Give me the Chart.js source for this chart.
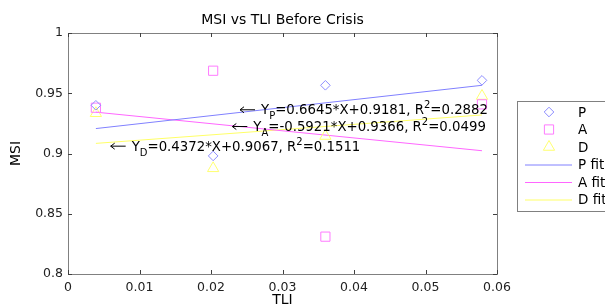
<!DOCTYPE html>
<html>
<head>
<meta charset="utf-8">
<script src="https://cdn.jsdelivr.net/npm/chart.js@4.4.1/dist/chart.umd.min.js"></script>
<style>
  html, body { margin: 0; padding: 0; background: #fff; }
  #wrap { width: 605px; height: 307px; position: relative; }
</style>
</head>
<body>
<div id="wrap"><canvas id="msiChart"></canvas></div>
<script>
// --- Data ---
const tli = [0.0039, 0.0203, 0.0360, 0.0579];
const msiP = [0.940, 0.898, 0.9566, 0.9607];
const msiA = [0.938, 0.9687, 0.831, 0.9408];
const msiD = [0.9334, 0.8877, 0.9145, 0.9477];

// fitted line end points (x = first and last TLI)
const fitX = [0.0039, 0.0579];
const fitP = [0.9207, 0.9566];
const fitA = [0.9343, 0.9023];
const fitD = [0.9084, 0.9320];

const xTicks = [0, 0.01, 0.02, 0.03, 0.04, 0.05, 0.06];
const yTicks = [0.8, 0.85, 0.9, 0.95, 1];

// equation labels: arrow tip in data coords
const eqLabels = [
    { x: 0.02406, y: 0.9367, sub: 'P', body: '=0.6645*X+0.9181, R', r2: '=0.2882' },
    { x: 0.02298, y: 0.9228, sub: 'A', body: '=-0.5921*X+0.9366, R', r2: '=0.0499' },
    { x: 0.00597, y: 0.9065, sub: 'D', body: '=0.4372*X+0.9067, R', r2: '=0.1511' }
];

const FONT = '"DejaVu Sans", Verdana, sans-serif';
const pts = (ys) => tli.map((x, i) => ({ x: x, y: ys[i] }));
const fit = (ys) => fitX.map((x, i) => ({ x: x, y: ys[i] }));

// --- Frame, ticks, titles, legend, equations ---
const matlabLook = {
    id: 'matlabLook',
    afterDatasetsDraw(chart) {
        const { ctx, chartArea: a, scales } = chart;
        const xs = scales.x, ys = scales.y;
        ctx.save();
        // box
        ctx.strokeStyle = '#808080';
        ctx.lineWidth = 1;
        ctx.strokeRect(a.left + 0.5, a.top + 0.5, a.right - a.left, a.bottom - a.top);
        // inward ticks on all sides
        ctx.strokeStyle = '#404040';
        ctx.beginPath();
        xTicks.forEach(v => {
            const px = Math.round(xs.getPixelForValue(v)) + 0.5;
            ctx.moveTo(px, a.bottom); ctx.lineTo(px, a.bottom - 4);
            ctx.moveTo(px, a.top); ctx.lineTo(px, a.top + 4);
        });
        yTicks.forEach(v => {
            const py = Math.round(ys.getPixelForValue(v)) + 0.5;
            ctx.moveTo(a.left, py); ctx.lineTo(a.left + 4, py);
            ctx.moveTo(a.right, py); ctx.lineTo(a.right - 4, py);
        });
        ctx.stroke();

        // titles
        ctx.fillStyle = '#000';
        ctx.textAlign = 'center';
        ctx.textBaseline = 'middle';
        ctx.font = '14px ' + FONT;
        ctx.fillText('MSI vs TLI Before Crisis', (a.left + a.right) / 2, 20);
        ctx.fillText('TLI', (a.left + a.right) / 2, 300);
        ctx.save();
        ctx.translate(16, (a.top + a.bottom) / 2);
        ctx.rotate(-Math.PI / 2);
        ctx.fillText('MSI', 0, 0);
        ctx.restore();

        // equations with arrows
        eqLabels.forEach(e => {
            const tx = xs.getPixelForValue(e.x);
            const ty = ys.getPixelForValue(e.y);
            ctx.strokeStyle = '#000';
            ctx.beginPath();
            ctx.moveTo(tx, ty + 0.5); ctx.lineTo(tx + 15, ty + 0.5);
            ctx.moveTo(tx + 4, ty - 2.5); ctx.lineTo(tx, ty + 0.5); ctx.lineTo(tx + 4, ty + 3.5);
            ctx.stroke();
            ctx.textAlign = 'left';
            ctx.textBaseline = 'alphabetic';
            let cx = tx + 21;
            const base = ty + 5;
            ctx.fillStyle = '#000';
            ctx.font = '13.3px ' + FONT;
            ctx.fillText('Y', cx, base); cx += ctx.measureText('Y').width;
            ctx.font = '10px ' + FONT;
            ctx.fillText(e.sub, cx, base + 5); cx += ctx.measureText(e.sub).width;
            ctx.font = '13.3px ' + FONT;
            ctx.fillText(e.body, cx, base); cx += ctx.measureText(e.body).width;
            ctx.font = '10px ' + FONT;
            ctx.fillText('2', cx, base - 6); cx += ctx.measureText('2').width;
            ctx.font = '13.3px ' + FONT;
            ctx.fillText(e.r2, cx, base);
        });

        // legend box
        ctx.fillStyle = '#fff';
        ctx.fillRect(517, 101, 100, 110);
        ctx.strokeStyle = '#808080';
        ctx.strokeRect(517.5, 101.5, 100, 110);
        ctx.font = '13.5px ' + FONT;
        ctx.textAlign = 'left';
        ctx.textBaseline = 'middle';
        chart.data.datasets.forEach((ds, i) => {
            const ly = 112 + i * 17.5;
            ctx.lineWidth = 1;
            if (ds.showLine) {
                ctx.strokeStyle = ds.borderColor;
                ctx.beginPath();
                ctx.moveTo(525, ly + 0.5); ctx.lineTo(572, ly + 0.5);
                ctx.stroke();
            } else {
                ctx.fillStyle = 'rgba(0,0,0,0)';
                ctx.strokeStyle = ds.borderColor;
                Chart.helpers.drawPoint(ctx, {
                    pointStyle: ds.pointStyle, radius: ds.pointRadius, borderWidth: 1
                }, 549, ly);
            }
            ctx.fillStyle = '#000';
            ctx.fillText(ds.label, 578, ly + 1);
        });
        ctx.restore();
    }
};

const ctx = document.getElementById('msiChart').getContext('2d');
const msiChart = new Chart(ctx, {
    type: 'scatter',
    data: {
        datasets: [
            { label: 'P', data: pts(msiP), pointStyle: 'rectRot', pointRadius: 4.8,
              borderColor: '#8c8cff', backgroundColor: 'transparent', borderWidth: 1, showLine: false },
            { label: 'A', data: pts(msiA), pointStyle: 'rect', pointRadius: 6.5,
              borderColor: '#ff7bff', backgroundColor: 'transparent', borderWidth: 1, showLine: false },
            { label: 'D', data: pts(msiD), pointStyle: 'triangle', pointRadius: 6.5,
              borderColor: '#ffff70', backgroundColor: 'transparent', borderWidth: 1, showLine: false },
            { label: 'P fit', data: fit(fitP), showLine: true, pointRadius: 0,
              borderColor: '#8080ff', borderWidth: 1 },
            { label: 'A fit', data: fit(fitA), showLine: true, pointRadius: 0,
              borderColor: '#ff66ff', borderWidth: 1 },
            { label: 'D fit', data: fit(fitD), showLine: true, pointRadius: 0,
              borderColor: '#ffff66', borderWidth: 1 }
        ]
    },
    options: {
        responsive: true,
        maintainAspectRatio: false,
        animation: false,
        layout: { padding: { top: 33, right: 108, left: 0, bottom: 0 } },
        plugins: {
            legend: { display: false },
            tooltip: { enabled: false }
        },
        scales: {
            x: {
                type: 'linear', min: 0, max: 0.06,
                afterFit: (s) => { s.height = 33; },
                afterBuildTicks: (s) => { s.ticks = xTicks.map(v => ({ value: v })); },
                grid: { display: false, drawTicks: false },
                border: { display: false },
                ticks: {
                    padding: 6, color: '#222', font: { family: FONT, size: 12.5 },
                    maxRotation: 0, autoSkip: false,
                    callback: (v) => String(+v.toFixed(2))
                }
            },
            y: {
                type: 'linear', min: 0.8, max: 1,
                afterFit: (s) => { s.width = 68; },
                afterBuildTicks: (s) => { s.ticks = yTicks.map(v => ({ value: v })); },
                grid: { display: false, drawTicks: false },
                border: { display: false },
                ticks: {
                    padding: 5, color: '#222', font: { family: FONT, size: 12.5 },
                    autoSkip: false,
                    callback: (v) => String(+v.toFixed(2))
                }
            }
        }
    },
    plugins: [matlabLook]
});
</script>
</body>
</html>
